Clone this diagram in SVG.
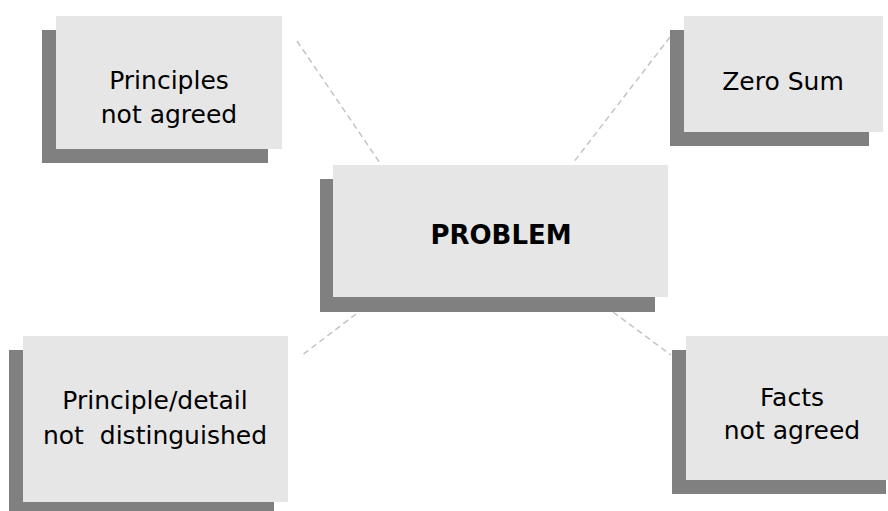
<svg xmlns="http://www.w3.org/2000/svg" width="888" height="511" viewBox="0 0 888 511">
  <style>
    .shadow { fill: #808080; }
    .box { fill: #e6e6e6; }
    .label { font-family: "DejaVu Sans", "Liberation Sans", sans-serif; font-size: 25px; fill: #000; text-anchor: middle; }
    .title { font-family: "DejaVu Sans", "Liberation Sans", sans-serif; font-size: 26px; font-weight: bold; fill: #000; text-anchor: middle; }
    .link { stroke: #c4c4c4; stroke-width: 1.5; stroke-dasharray: 6 4; fill: none; }
  </style>
  <rect width="888" height="511" fill="#ffffff"/>

  <!-- dashed spokes from the central problem -->
  <g id="connectors">
    <line class="link" x1="297" y1="41" x2="380" y2="163"/>
    <line class="link" x1="670" y1="37" x2="573" y2="163"/>
    <line class="link" x1="356" y1="314" x2="301" y2="356"/>
    <line class="link" x1="613" y1="312" x2="671" y2="355"/>
  </g>

  <g id="principles-not-agreed">
    <rect class="shadow" x="42" y="30" width="226" height="133"/>
    <rect class="box" x="56" y="16" width="226" height="133"/>
    <text class="label" x="169" y="89">Principles</text>
    <text class="label" x="169" y="123">not agreed</text>
  </g>

  <g id="zero-sum">
    <rect class="shadow" x="670" y="30" width="199" height="116"/>
    <rect class="box" x="684" y="16" width="199" height="116"/>
    <text class="label" x="783" y="90">Zero Sum</text>
  </g>

  <g id="problem">
    <rect class="shadow" x="320" y="179" width="335" height="133"/>
    <rect class="box" x="333" y="165" width="335" height="132"/>
    <text class="title" x="501" y="244">PROBLEM</text>
  </g>

  <g id="principle-detail">
    <rect class="shadow" x="9" y="350" width="265" height="165"/>
    <rect class="box" x="23" y="336" width="265" height="166"/>
    <text class="label" x="155" y="409">Principle/detail</text>
    <text class="label" x="155" y="444" xml:space="preserve">not  distinguished</text>
  </g>

  <g id="facts-not-agreed">
    <rect class="shadow" x="672" y="350" width="214" height="144"/>
    <rect class="box" x="686" y="336" width="214" height="144"/>
    <text class="label" x="792" y="406">Facts</text>
    <text class="label" x="792" y="439">not agreed</text>
  </g>
</svg>
